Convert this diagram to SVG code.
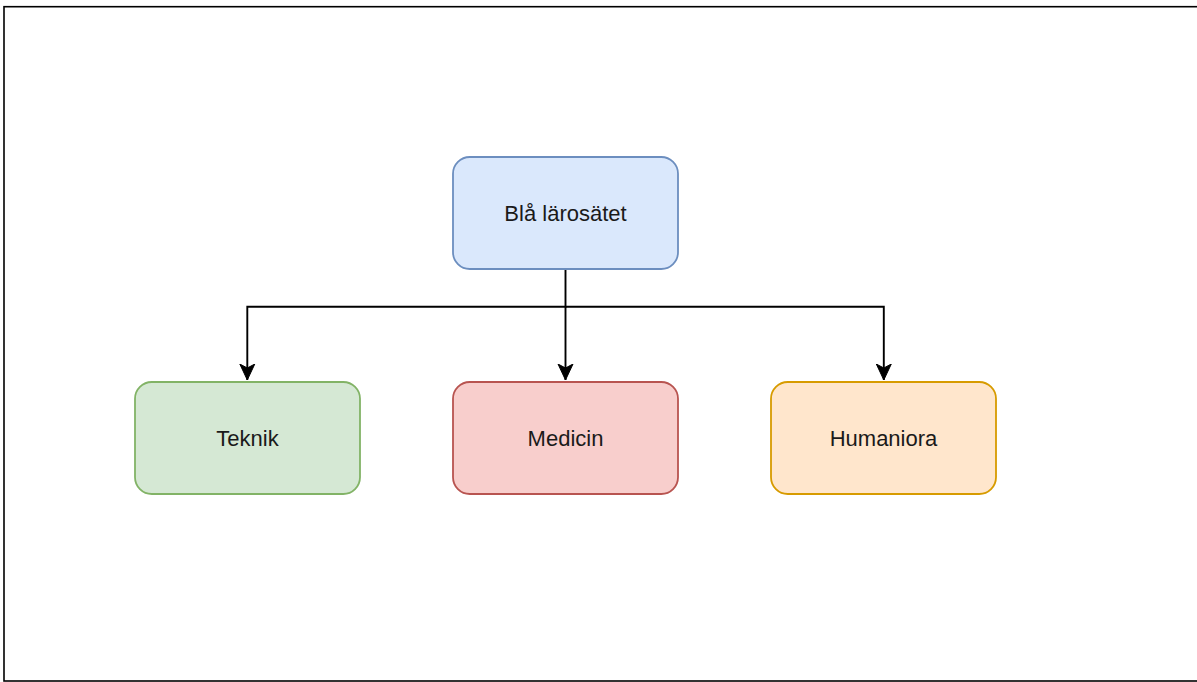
<svg xmlns="http://www.w3.org/2000/svg" width="1197" height="682" viewBox="0 0 1197 682">
<style>
.lbl{font-family:"Liberation Sans",Arial,sans-serif;font-size:22px;fill:#1a1a1a;text-anchor:middle;dominant-baseline:central}
.box{stroke-width:1.8}
.edge{fill:none;stroke:#000;stroke-width:1.9}
</style>
<defs>
<marker id="arr" markerUnits="userSpaceOnUse" markerWidth="20" markerHeight="20" viewBox="0 0 20 20" refX="16" refY="10" orient="auto">
<path d="M0,2.5 L16,10 L0,17.5 L4,10 Z" fill="#000" stroke="#000" stroke-width="1"/>
</marker>
</defs>
<rect x="4" y="6.7" width="1200" height="674.3" fill="#fff" stroke="#000" stroke-width="1.6"/>
<g id="connectors">
<path class="edge" d="M565.5,269 V306.7 H247.3 V380" marker-end="url(#arr)"/>
<path class="edge" d="M565.5,306.7 V380" marker-end="url(#arr)"/>
<path class="edge" d="M565.5,306.7 H883.8 V380" marker-end="url(#arr)"/>
</g>
<g id="node-bla">
<rect class="box" x="453" y="157" width="225" height="112" rx="16.8" fill="#dae8fc" stroke="#6c8ebf"/>
<text class="lbl" x="565.5" y="213">Blå lärosätet</text>
</g>
<g id="node-teknik">
<rect class="box" x="135" y="382" width="225" height="112" rx="16.8" fill="#d5e8d4" stroke="#82b366"/>
<text class="lbl" x="247.5" y="438">Teknik</text>
</g>
<g id="node-medicin">
<rect class="box" x="453" y="382" width="225" height="112" rx="16.8" fill="#f8cecc" stroke="#b85450"/>
<text class="lbl" x="565.5" y="438">Medicin</text>
</g>
<g id="node-humaniora">
<rect class="box" x="771" y="382" width="225" height="112" rx="16.8" fill="#ffe6cc" stroke="#d79b00"/>
<text class="lbl" x="883.5" y="438">Humaniora</text>
</g>
</svg>
